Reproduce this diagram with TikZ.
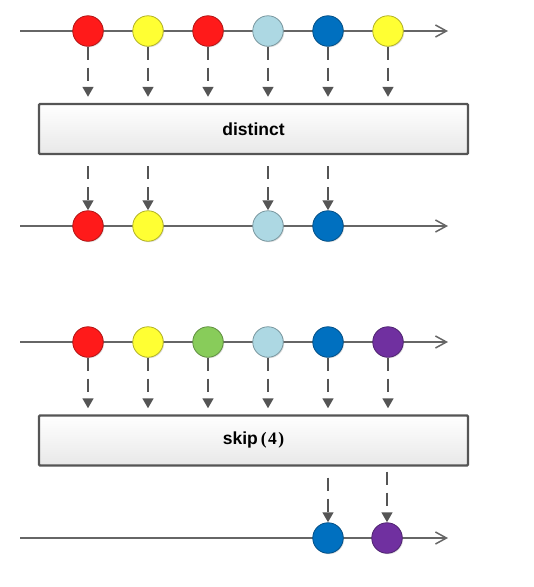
\documentclass[tikz,border=0pt]{standalone}
\usepackage{fontspec}
\setmainfont{Liberation Sans}
\newfontfamily\numfont{Liberation Serif}
\usetikzlibrary{arrows.meta,shadows}
\definecolor{mred}{HTML}{FF1A1A}
\definecolor{myellow}{HTML}{FFFF33}
\definecolor{mlblue}{HTML}{ADD8E3}
\definecolor{mblue}{HTML}{0070C0}
\definecolor{mgreen}{HTML}{88CC5A}
\definecolor{mpurple}{HTML}{7030A0}
\definecolor{lineg}{HTML}{666666}
\definecolor{darkg}{HTML}{555555}
\tikzset{
  timeline/.style={draw=lineg, line width=1.8pt, -{Straight Barb[length=11pt,width=12pt,line width=1.5pt]}},
  marble/.style={circle, minimum size=30.5pt, inner sep=0pt, line width=0.8pt, fill=#1, draw=#1!70!black,
    drop shadow={opacity=0.25, shadow xshift=1pt, shadow yshift=-1pt}},
  flow/.style={draw=darkg, line width=2.8pt, dash pattern=on 13pt off 8pt,
    -{Triangle[length=10pt,width=10.5pt]}},
  opbox/.style={draw=darkg, line width=2.2pt, rounded corners=1pt, top color=white, bottom color=black!9,
    minimum width=429pt, minimum height=50pt, inner sep=0pt, font=\fontsize{17.5}{20}\selectfont\bfseries}
}
\begin{document}
\begin{tikzpicture}[x=1pt,y=-1pt]
\useasboundingbox (0,0) rectangle (534,587);

% ---- distinct: source stream ----
\coordinate (a0) at (20,31);
\coordinate (a1) at (448,31);
\draw[timeline] (a0) -- (a1);
\node[marble=mred]    (a-1) at (88,31) {};
\node[marble=myellow] (a-2) at (148,31) {};
\node[marble=mred]    (a-3) at (208,31) {};
\node[marble=mlblue]  (a-4) at (268,31) {};
\node[marble=mblue]   (a-5) at (328,31) {};
\node[marble=myellow] (a-6) at (388,31) {};

\node[opbox] (dbox) at (253.5,129) {distinct};

\foreach \i in {1,...,6}
  \draw[flow, shorten >=6pt] (a-\i.south) -- (a-\i.south |- dbox.north);

% ---- distinct: result stream ----
\coordinate (b0) at (20,226);
\coordinate (b1) at (448,226);
\draw[timeline] (b0) -- (b1);
\node[marble=mred]    (b-1) at (88,226) {};
\node[marble=myellow] (b-2) at (148,226) {};
\node[marble=mlblue]  (b-4) at (268,226) {};
\node[marble=mblue]   (b-5) at (328,226) {};

\foreach \i in {1,2,4,5}
  \draw[flow, shorten <=11pt] (b-\i.north |- dbox.south) -- (b-\i.north);

% ---- skip(4): source stream ----
\coordinate (c0) at (20,342);
\coordinate (c1) at (448,342);
\draw[timeline] (c0) -- (c1);
\node[marble=mred]    (c-1) at (88,342) {};
\node[marble=myellow] (c-2) at (148,342) {};
\node[marble=mgreen]  (c-3) at (208,342) {};
\node[marble=mlblue]  (c-4) at (268,342) {};
\node[marble=mblue]   (c-5) at (328,342) {};
\node[marble=mpurple] (c-6) at (388,342) {};

\node[opbox] (sbox) at (253.5,440.5) {skip\,{\numfont (\kern1.5pt4\kern1.5pt)}};

\foreach \i in {1,...,6}
  \draw[flow, shorten >=6pt] (c-\i.south) -- (c-\i.south |- sbox.north);

% ---- skip(4): result stream ----
\coordinate (d0) at (20,538);
\coordinate (d1) at (448,538);
\draw[timeline] (d0) -- (d1);
\node[marble=mblue]   (d-5) at (328,538) {};
\node[marble=mpurple] (d-6) at (387,538) {};

\draw[flow, shorten <=11pt] (d-5.north |- sbox.south) -- (d-5.north);
\draw[flow, shorten <=5pt] (d-6.north |- sbox.south) -- (d-6.north);
\end{tikzpicture}
\end{document}
